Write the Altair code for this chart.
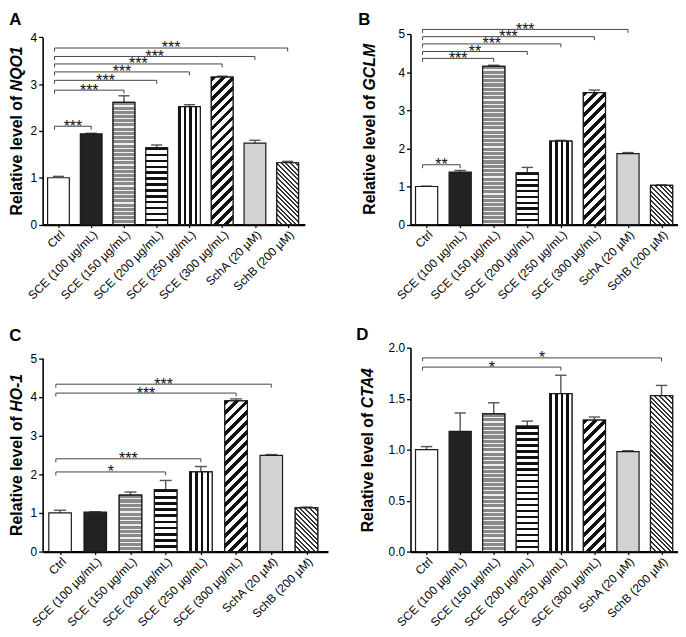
import json
import altair as alt
import pandas as pd

categories = ["Ctrl", "SCE (100 µg/mL)", "SCE (150 µg/mL)", "SCE (200 µg/mL)",
              "SCE (250 µg/mL)", "SCE (300 µg/mL)", "SchA (20 µM)", "SchB (200 µM)"]
fills = ["#ffffff", "#222222", "#a3a3a3", "#7a7a7a", "#7a7a7a", "#5e5e5e", "#d2d2d2", "#9a9a9a"]

nqo1_mean = [1.00, 1.94, 2.61, 1.64, 2.52, 3.15, 1.74, 1.32]
nqo1_err = [0.03, 0.01, 0.14, 0.06, 0.04, 0.02, 0.06, 0.03]
nqo1_sig_target = [1, 2, 3, 4, 5, 6, 7]
nqo1_sig_level = [2.10, 2.87, 3.08, 3.26, 3.43, 3.59, 3.77]
nqo1_sig_label = ["***", "***", "***", "***", "***", "***", "***"]

gclm_mean = [1.00, 1.38, 4.15, 1.36, 2.19, 3.46, 1.86, 1.03]
gclm_err = [0.01, 0.04, 0.03, 0.14, 0.02, 0.07, 0.03, 0.01]
gclm_sig_target = [1, 2, 3, 4, 5, 6]
gclm_sig_level = [1.57, 4.36, 4.54, 4.74, 4.93, 5.12]
gclm_sig_label = ["**", "***", "**", "***", "***", "***"]

ho1_mean = [1.00, 1.02, 1.46, 1.60, 2.06, 3.90, 2.49, 1.13]
ho1_err = [0.07, 0.01, 0.08, 0.24, 0.14, 0.05, 0.02, 0.02]
ho1_sig_target = [3, 4, 5, 6]
ho1_sig_level = [2.06, 2.40, 4.10, 4.33]
ho1_sig_label = ["*", "***", "***", "***"]

cta4_mean = [1.00, 1.18, 1.35, 1.23, 1.55, 1.29, 0.98, 1.53]
cta4_err = [0.03, 0.18, 0.11, 0.05, 0.18, 0.03, 0.01, 0.10]
cta4_sig_target = [4, 7]
cta4_sig_level = [1.81, 1.90]
cta4_sig_label = ["*", "*"]

FONT = "Liberation Sans"
LABEL_EXPR = json.dumps(categories, ensure_ascii=False) + "[datum.value]"
STROKE = "#1a1a1a"
TITLE_SIZE = 16
TITLE_GAP = 4.5


def text_width(s, size):
    w = {"R": .722, "e": .556, "l": .278, "a": .556, "t": .333, "i": .278, "v": .556,
         " ": .278, "o": .611, "f": .333, "N": .722, "Q": .778, "O": .778,
         "1": .556, "G": .778, "C": .722, "L": .611, "M": .833, "H": .722, "-": .333,
         "T": .611, "A": .722, "4": .556}
    return sum(w.get(c, .6) for c in s) * size


def periodic_stops(n, frac, dark, light):
    stops = []
    for j in range(n):
        a, b, c = j / n, (j + frac) / n, (j + 1) / n
        stops += [{"offset": round(a, 5), "color": dark}, {"offset": round(b, 5), "color": dark},
                  {"offset": round(b, 5), "color": light}, {"offset": round(c, 5), "color": light}]
    return stops


def pattern(kind, w, h):
    """Stripe fill as a linear gradient (bounding-box units)."""
    if kind == "hstripe":
        n = max(1, round(h / 6.0))
        return {"gradient": "linear", "x1": 0, "y1": 0, "x2": 0, "y2": 1,
                "stops": periodic_stops(n, 0.42, "#111111", "#ffffff")}
    if kind == "brick":
        n = max(1, round(h / 4.3))
        return {"gradient": "linear", "x1": 0, "y1": 0, "x2": 0, "y2": 1,
                "stops": periodic_stops(n, 0.72, "#8a8a8a", "#f0f0f0")}
    if kind == "vstripe":
        n = max(1, round(w / 5.5))
        return {"gradient": "linear", "x1": 0, "y1": 0, "x2": 1, "y2": 0,
                "stops": periodic_stops(n, 0.45, "#111111", "#ffffff")}
    if kind in ("slash", "fineback"):
        period, frac, dark = (7.2, 0.48, "#111111") if kind == "slash" else (3.4, 0.42, "#333333")
        k = (w + h) / (w * w + h * h)
        n = max(1, round((w + h) / 1.41421 / period))
        if kind == "slash":
            g = {"x1": 0, "y1": 0, "x2": k * w, "y2": k * h}
        else:
            g = {"x1": 0, "y1": 1, "x2": k * w, "y2": 1 - k * h}
        g.update({"gradient": "linear", "stops": periodic_stops(n, frac, dark, "#ffffff")})
        return g
    return None


PATTERN_KIND = {2: "brick", 3: "hstripe", 4: "vstripe", 5: "slash", 7: "fineback"}


def panel(letter, gene, means, errs, targets, levels, labels, yticks, yfmt,
          width, height, yrange, xdomain, hw, letter_pos, title_x):
    bars = pd.DataFrame({"idx": list(range(len(categories))), "cat": categories,
                         "mean": means, "err": errs})
    bars["top"] = bars["mean"] + bars["err"]
    bars["left"] = bars["idx"] - hw
    bars["right"] = bars["idx"] + hw
    bars["capl"] = bars["idx"] - 0.17
    bars["capr"] = bars["idx"] + 0.17
    bars["base"] = 0.0

    sig = pd.DataFrame({"target": targets, "level": levels, "label": labels})
    sig["start"] = -0.12
    sig["mid"] = (sig["start"] + sig["target"]) / 2

    xs = alt.Scale(domain=xdomain, nice=False, zero=False)
    ys = alt.Scale(domain=[0, yticks[-1]], range=yrange, nice=False, zero=True)
    xaxis = alt.Axis(values=list(range(len(categories))), labelExpr=LABEL_EXPR,
                     labelAngle=-45, labelAlign="right", labelBaseline="top",
                     labelOverlap=False, labelBound=False, labelFlush=False,
                     title=None, grid=False, tickSize=3, tickWidth=1.2,
                     domainWidth=2.4, labelFontSize=12, labelPadding=1)
    yaxis = alt.Axis(values=yticks, format=yfmt, title=None, grid=False, tickSize=4,
                     tickWidth=1.3, domainWidth=1.6, labelFontSize=12, labelPadding=2)

    def X(f):
        return alt.X(f, type="quantitative", scale=xs, axis=xaxis)

    def Y(f):
        return alt.Y(f, type="quantitative", scale=ys, axis=yaxis)

    base = alt.Chart(bars)
    err_line = base.mark_rule(color="#555555", strokeWidth=1.4).encode(
        x=X("idx"), y=Y("mean"), y2=alt.Y2("top"))
    err_cap = base.mark_rule(color="#555555", strokeWidth=1.4).encode(
        x=X("capl"), x2=alt.X2("capr"), y=Y("top"))
    bar = base.mark_bar(stroke=STROKE, strokeWidth=1.2).encode(
        x=X("left"), x2=alt.X2("right"), y=Y("mean"), y2=alt.Y2("base"),
        fill=alt.Fill("cat:N", scale=alt.Scale(domain=categories, range=fills), legend=None))

    # pattern overlays (stripe fills)
    step = width / (xdomain[1] - xdomain[0])
    bar_w = 2 * hw * step
    px_per_unit = (yrange[0] - yrange[1]) / yticks[-1]
    pat_layers = []
    for i, kind in PATTERN_KIND.items():
        grad = pattern(kind, bar_w, means[i] * px_per_unit)
        pat_layers.append(
            base.transform_filter(f"datum.idx == {i}").mark_bar(
                fill=grad, stroke=STROKE, strokeWidth=1.2).encode(
                x=X("left"), x2=alt.X2("right"), y=Y("mean"), y2=alt.Y2("base")))

    sbase = alt.Chart(sig)
    hline = sbase.mark_rule(color="#444444", strokeWidth=1).encode(
        x=X("start"), x2=alt.X2("target"), y=Y("level"))
    ldrop = sbase.mark_rule(color="#444444", strokeWidth=1, y2Offset=3.5).encode(
        x=X("start"), y=Y("level"), y2=alt.Y2("level"))
    rdrop = sbase.mark_rule(color="#444444", strokeWidth=1, y2Offset=3.5).encode(
        x=X("target"), y=Y("level"), y2=alt.Y2("level"))
    stars = sbase.mark_text(fontSize=16, baseline="alphabetic", dy=5.5, color="#111111",
                            font=FONT).encode(x=X("mid"), y=Y("level"), text="label:N")

    one = alt.Chart(pd.DataFrame({"k": [0]}))
    lt = one.mark_text(align="left", baseline="top", fontSize=17, fontWeight="bold",
                       font=FONT, color="#000000").encode(
        x=alt.value(letter_pos[0]), y=alt.value(letter_pos[1]), text=alt.value(letter))

    rel_txt = "Relative level of"
    yc = (yrange[0] + yrange[1]) / 2
    l1 = text_width(rel_txt, TITLE_SIZE)
    l2 = text_width(gene, TITLE_SIZE)
    split = yc + (l1 + TITLE_GAP + l2) / 2 - l1  # where "of" ends (upper end of part 1)
    t1 = one.mark_text(angle=270, align="right", baseline="alphabetic", fontSize=TITLE_SIZE,
                       fontWeight="bold", font=FONT, color="#000000").encode(
        x=alt.value(title_x), y=alt.value(split), text=alt.value(rel_txt))
    t2 = one.mark_text(angle=270, align="left", baseline="alphabetic", fontSize=TITLE_SIZE,
                       fontWeight="bold", fontStyle="italic", font=FONT,
                       color="#000000").encode(
        x=alt.value(title_x), y=alt.value(split - TITLE_GAP), text=alt.value(gene))

    return alt.layer(err_line, err_cap, bar, *pat_layers, hline, ldrop, rdrop, stars,
                     lt, t1, t2).properties(width=width, height=height)


pA = panel("A", "NQO1", nqo1_mean, nqo1_err, nqo1_sig_target, nqo1_sig_level, nqo1_sig_label,
           [0, 1, 2, 3, 4], "d", 265, 192.6, [192.6, 3.3], [-0.483, 7.526], 0.332,
           (-33.7, -22), -21)
pB = panel("B", "GCLM", gclm_mean, gclm_err, gclm_sig_target, gclm_sig_level, gclm_sig_label,
           [0, 1, 2, 3, 4, 5], "d", 270.3, 192.6, [192.6, 0], [-0.48, 7.49], 0.33,
           (-52.7, -22), -36.2)
pC = panel("C", "HO-1", ho1_mean, ho1_err, ho1_sig_target, ho1_sig_level, ho1_sig_label,
           [0, 1, 2, 3, 4, 5], "d", 288.3, 206, [206, 10.7], [-0.495, 7.61], 0.32,
           (-33.7, -19.3), -21)
pD = panel("D", "CTA4", cta4_mean, cta4_err, cta4_sig_target, cta4_sig_level, cta4_sig_label,
           [0, 0.5, 1.0, 1.5, 2.0], ".1f", 270.3, 206, [206, 0], [-0.48, 7.49], 0.33,
           (-54.7, -21), -37.5)

chart = alt.concat(pA, pB, pC, pD, columns=2, spacing={"row": 124, "column": 82.7},
                   bounds="flush").properties(padding=0).configure_view(
    stroke=None).configure_axis(
    labelFont=FONT, labelColor="#000000", domainColor="#000000", tickColor="#000000")

chart.save("out.html", embed_options={"renderer": "svg", "actions": False})
